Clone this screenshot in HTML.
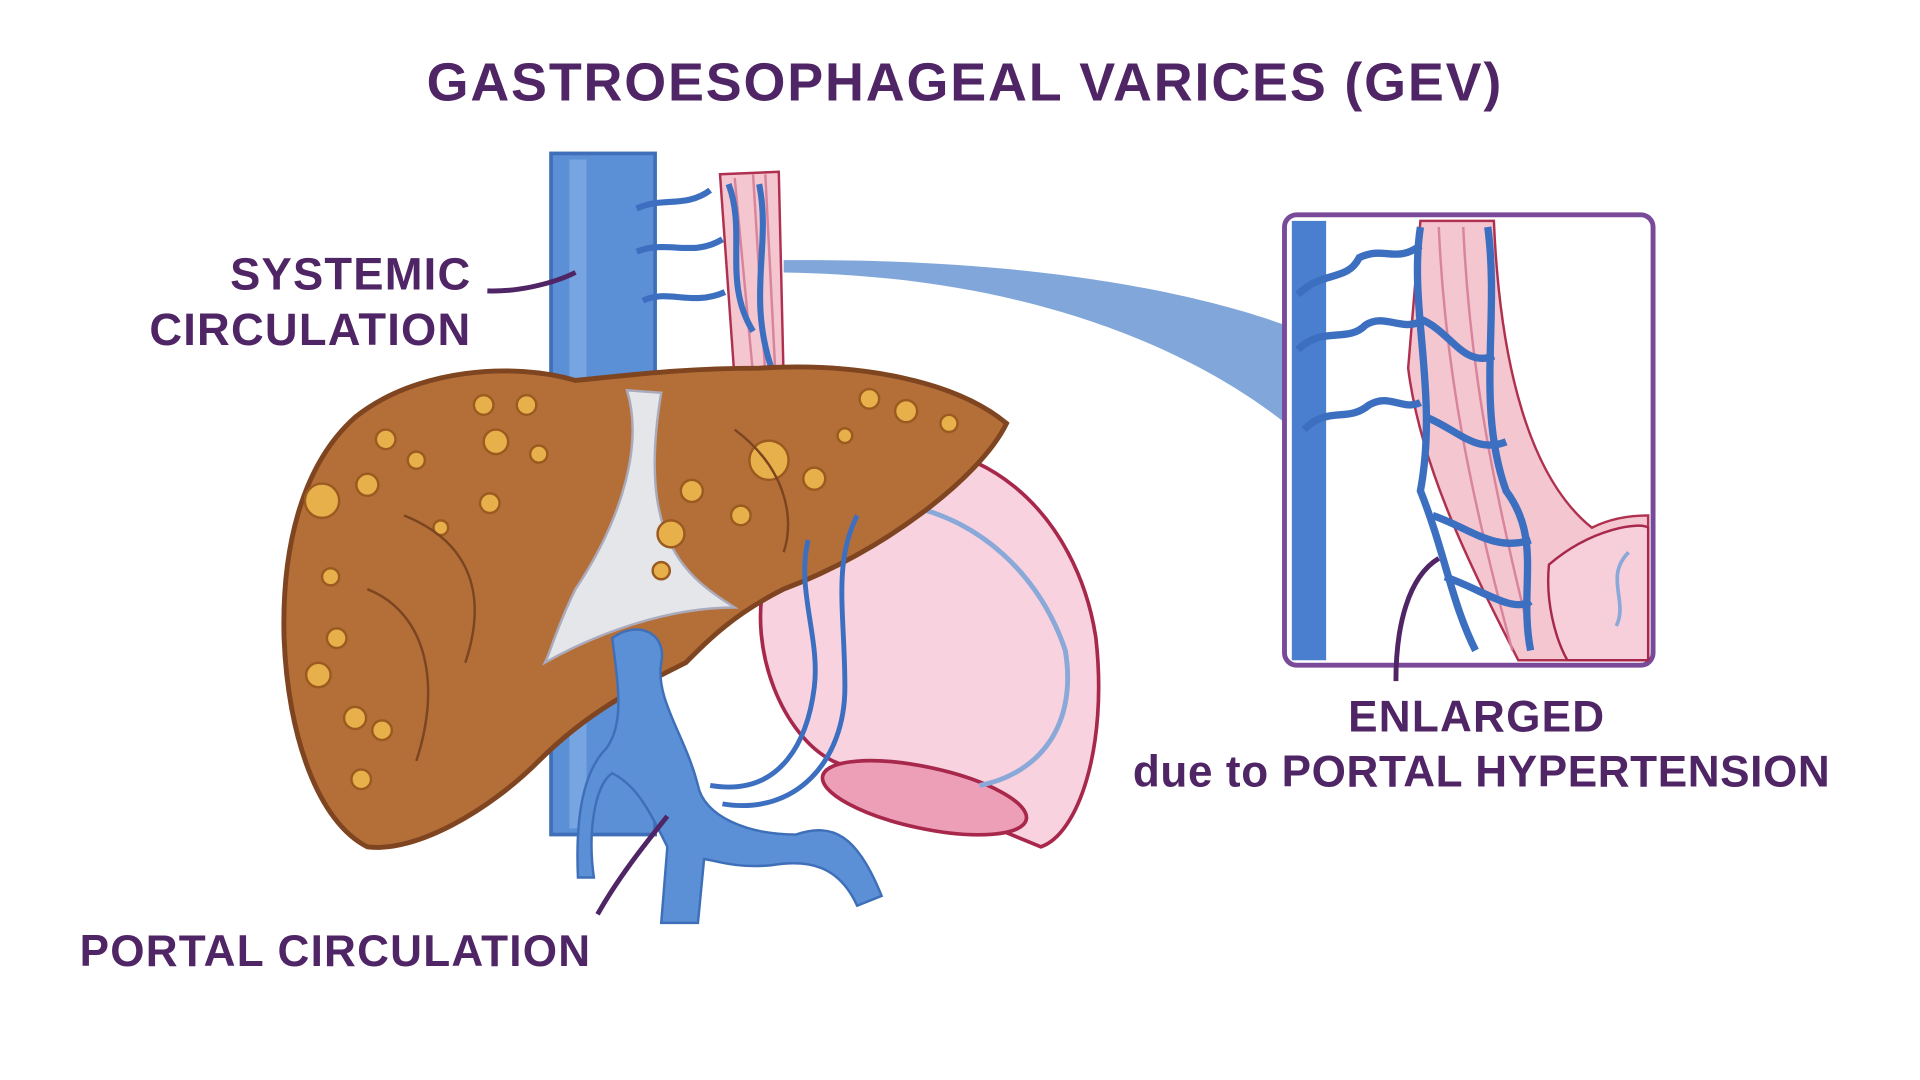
<!DOCTYPE html>
<html><head><meta charset="utf-8"><style>
html,body{margin:0;padding:0;background:#fff;width:1920px;height:1080px;overflow:hidden}
svg{display:block}
text{font-family:"Liberation Sans",sans-serif;font-weight:bold;fill:#4f2566}
</style></head><body>
<svg width="1920" height="1080" viewBox="0 0 1568 880" preserveAspectRatio="none">
<rect width="1568" height="880" fill="#fff"/>
<text x="788" y="82" font-size="44" text-anchor="middle" letter-spacing="1.5">GASTROESOPHAGEAL VARICES (GEV)</text>

<path d="M640 212 C850 210 980 240 1050 265 L1050 345 C980 290 850 225 640 222 Z" fill="#6a96d4" opacity="0.85"/>

<rect x="450" y="125" width="85" height="555" fill="#5b8fd6" stroke="#3e6fb8" stroke-width="3"/>
<rect x="465" y="130" width="14" height="545" fill="#8ab4ea" opacity="0.6"/>

<path d="M588 142 L636 140 L640 310 L600 310 Z" fill="#f4c6d0" stroke="#b0304f" stroke-width="2"/>
<path d="M600 145 L615 305 M615 142 L625 305 M625 142 L633 300" stroke="#d8849a" stroke-width="2" fill="none"/>
<path d="M520 170 C540 160 560 170 580 155 M520 205 C545 195 565 210 590 195 M525 245 C545 235 565 250 592 238 M595 150 C610 190 590 230 615 270 M620 150 C630 200 610 240 630 300" stroke="#3d6fc0" stroke-width="5" fill="none"/>

<path d="M690 370 C800 340 880 420 895 520 C905 610 880 680 850 690 L680 620 C640 600 610 530 625 470 C640 420 660 380 690 370 Z" fill="#f8d3df" stroke="#a8284c" stroke-width="3"/>
<ellipse cx="755" cy="650" rx="85" ry="25" transform="rotate(12 755 650)" fill="#ec9fb7" stroke="#a8284c" stroke-width="3"/>
<path d="M730 410 C800 420 850 470 870 530 C880 590 850 630 800 640" stroke="#8aa8d8" stroke-width="4" fill="none"/>

<path d="M290 340 C340 300 420 295 470 310 C520 305 560 300 620 300 C700 295 780 310 822 345 C800 390 720 450 640 480 C600 500 580 520 560 540 C520 560 480 580 440 620 C400 660 340 695 300 690 C260 670 235 600 232 520 C230 450 245 380 290 340 Z" fill="#b46f38" stroke="#7f4420" stroke-width="4"/>
<path d="M512 318 C525 360 510 420 470 480 C455 510 450 530 445 540 C480 520 540 495 600 495 C560 470 520 440 540 320 Z" fill="#e4e6ea" stroke="#aab" stroke-width="2"/>
<g fill="#e8b04a" stroke="#9a5a20" stroke-width="2">
<circle cx="263" cy="408" r="14"/><circle cx="300" cy="395" r="9"/><circle cx="315" cy="358" r="8"/><circle cx="405" cy="360" r="10"/><circle cx="430" cy="330" r="8"/><circle cx="395" cy="330" r="8"/>
<circle cx="628" cy="375" r="16"/><circle cx="565" cy="400" r="9"/><circle cx="548" cy="435" r="11"/><circle cx="605" cy="420" r="8"/><circle cx="665" cy="390" r="9"/><circle cx="710" cy="325" r="8"/><circle cx="740" cy="335" r="9"/><circle cx="775" cy="345" r="7"/>
<circle cx="260" cy="550" r="10"/><circle cx="275" cy="520" r="8"/><circle cx="290" cy="585" r="9"/><circle cx="312" cy="595" r="8"/><circle cx="295" cy="635" r="8"/><circle cx="400" cy="410" r="8"/><circle cx="440" cy="370" r="7"/><circle cx="340" cy="375" r="7"/><circle cx="360" cy="430" r="6"/><circle cx="540" cy="465" r="7"/><circle cx="690" cy="355" r="6"/><circle cx="270" cy="470" r="7"/>
</g>
<path d="M330 420 C380 440 400 480 380 540 M300 480 C350 500 360 560 340 620 M600 350 C640 380 650 420 640 450" stroke="#7a4520" stroke-width="2" fill="none"/>

<path d="M500 520 C520 505 545 515 540 540 C535 570 560 600 570 640 C575 665 610 680 650 680 C680 670 700 680 720 730 L700 738 C685 705 660 700 630 705 C600 708 580 700 575 700 L570 752 L540 752 L545 690 C530 660 520 640 500 630 C485 640 480 680 485 715 L472 715 C470 670 475 630 495 610 C510 590 505 560 500 520 Z" fill="#5b8fd6" stroke="#3e6fb8" stroke-width="2"/>
<path d="M580 640 C640 650 660 600 665 560 C670 520 650 480 660 440 M590 655 C650 665 690 620 690 560 C690 500 680 460 700 420" stroke="#3d6fc0" stroke-width="4" fill="none"/>

<rect x="1049" y="175" width="301" height="367" rx="10" fill="#fff" stroke="#7a4a9a" stroke-width="4"/>
<rect x="1055" y="180" width="28" height="358" fill="#4a7fd0"/>
<path d="M1160 180 L1220 180 C1225 300 1250 390 1300 430 C1320 420 1340 420 1346 420 L1346 538 L1240 538 C1200 460 1160 380 1150 300 Z" fill="#f4c6d0" stroke="#b0304f" stroke-width="2"/>
<path d="M1265 460 C1300 430 1340 425 1346 430 L1346 538 L1280 538 C1270 520 1262 490 1265 460 Z" fill="#f6cfdb" stroke="#a8284c" stroke-width="2"/>
<path d="M1175 185 C1180 300 1200 400 1235 530 M1195 185 C1200 300 1220 400 1250 520" stroke="#d8849a" stroke-width="2" fill="none"/>
<g stroke="#3d6fc0" stroke-width="6" fill="none">
<path d="M1060 240 C1080 220 1100 230 1110 210 C1130 200 1140 215 1160 200"/>
<path d="M1060 285 C1080 265 1100 280 1115 265 C1130 255 1145 270 1160 262"/>
<path d="M1065 350 C1085 330 1100 345 1118 330 C1135 320 1145 335 1160 328"/>
<path d="M1160 185 C1150 250 1175 320 1160 400 C1180 450 1185 490 1205 530"/>
<path d="M1215 185 C1225 260 1205 330 1230 400 C1260 440 1240 480 1250 530"/>
<path d="M1160 260 C1185 270 1195 300 1220 290 M1165 340 C1190 350 1205 370 1230 360 M1170 420 C1200 430 1220 450 1250 440 M1180 470 C1210 480 1235 500 1250 490"/>
</g>
<path d="M1330 450 C1310 470 1330 490 1320 510" stroke="#8aa8d8" stroke-width="3" fill="none"/>

<text x="385" y="236" font-size="37" text-anchor="end" letter-spacing="1">SYSTEMIC</text>
<text x="385" y="281" font-size="37" text-anchor="end" letter-spacing="1">CIRCULATION</text>
<path d="M398 237 C420 238 450 232 470 222" stroke="#4f2566" stroke-width="4" fill="none"/>
<text x="65" y="787" font-size="36" letter-spacing="1">PORTAL CIRCULATION</text>
<path d="M488 745 C505 715 525 690 545 665" stroke="#4f2566" stroke-width="4" fill="none"/>
<text x="1206" y="596" font-size="36" text-anchor="middle" letter-spacing="1">ENLARGED</text>
<text x="1210" y="641" font-size="36" text-anchor="middle" letter-spacing="0.5">due to PORTAL HYPERTENSION</text>
<path d="M1140 555 C1140 510 1150 470 1175 455" stroke="#4f2566" stroke-width="4" fill="none"/>
</svg>
</body></html>
